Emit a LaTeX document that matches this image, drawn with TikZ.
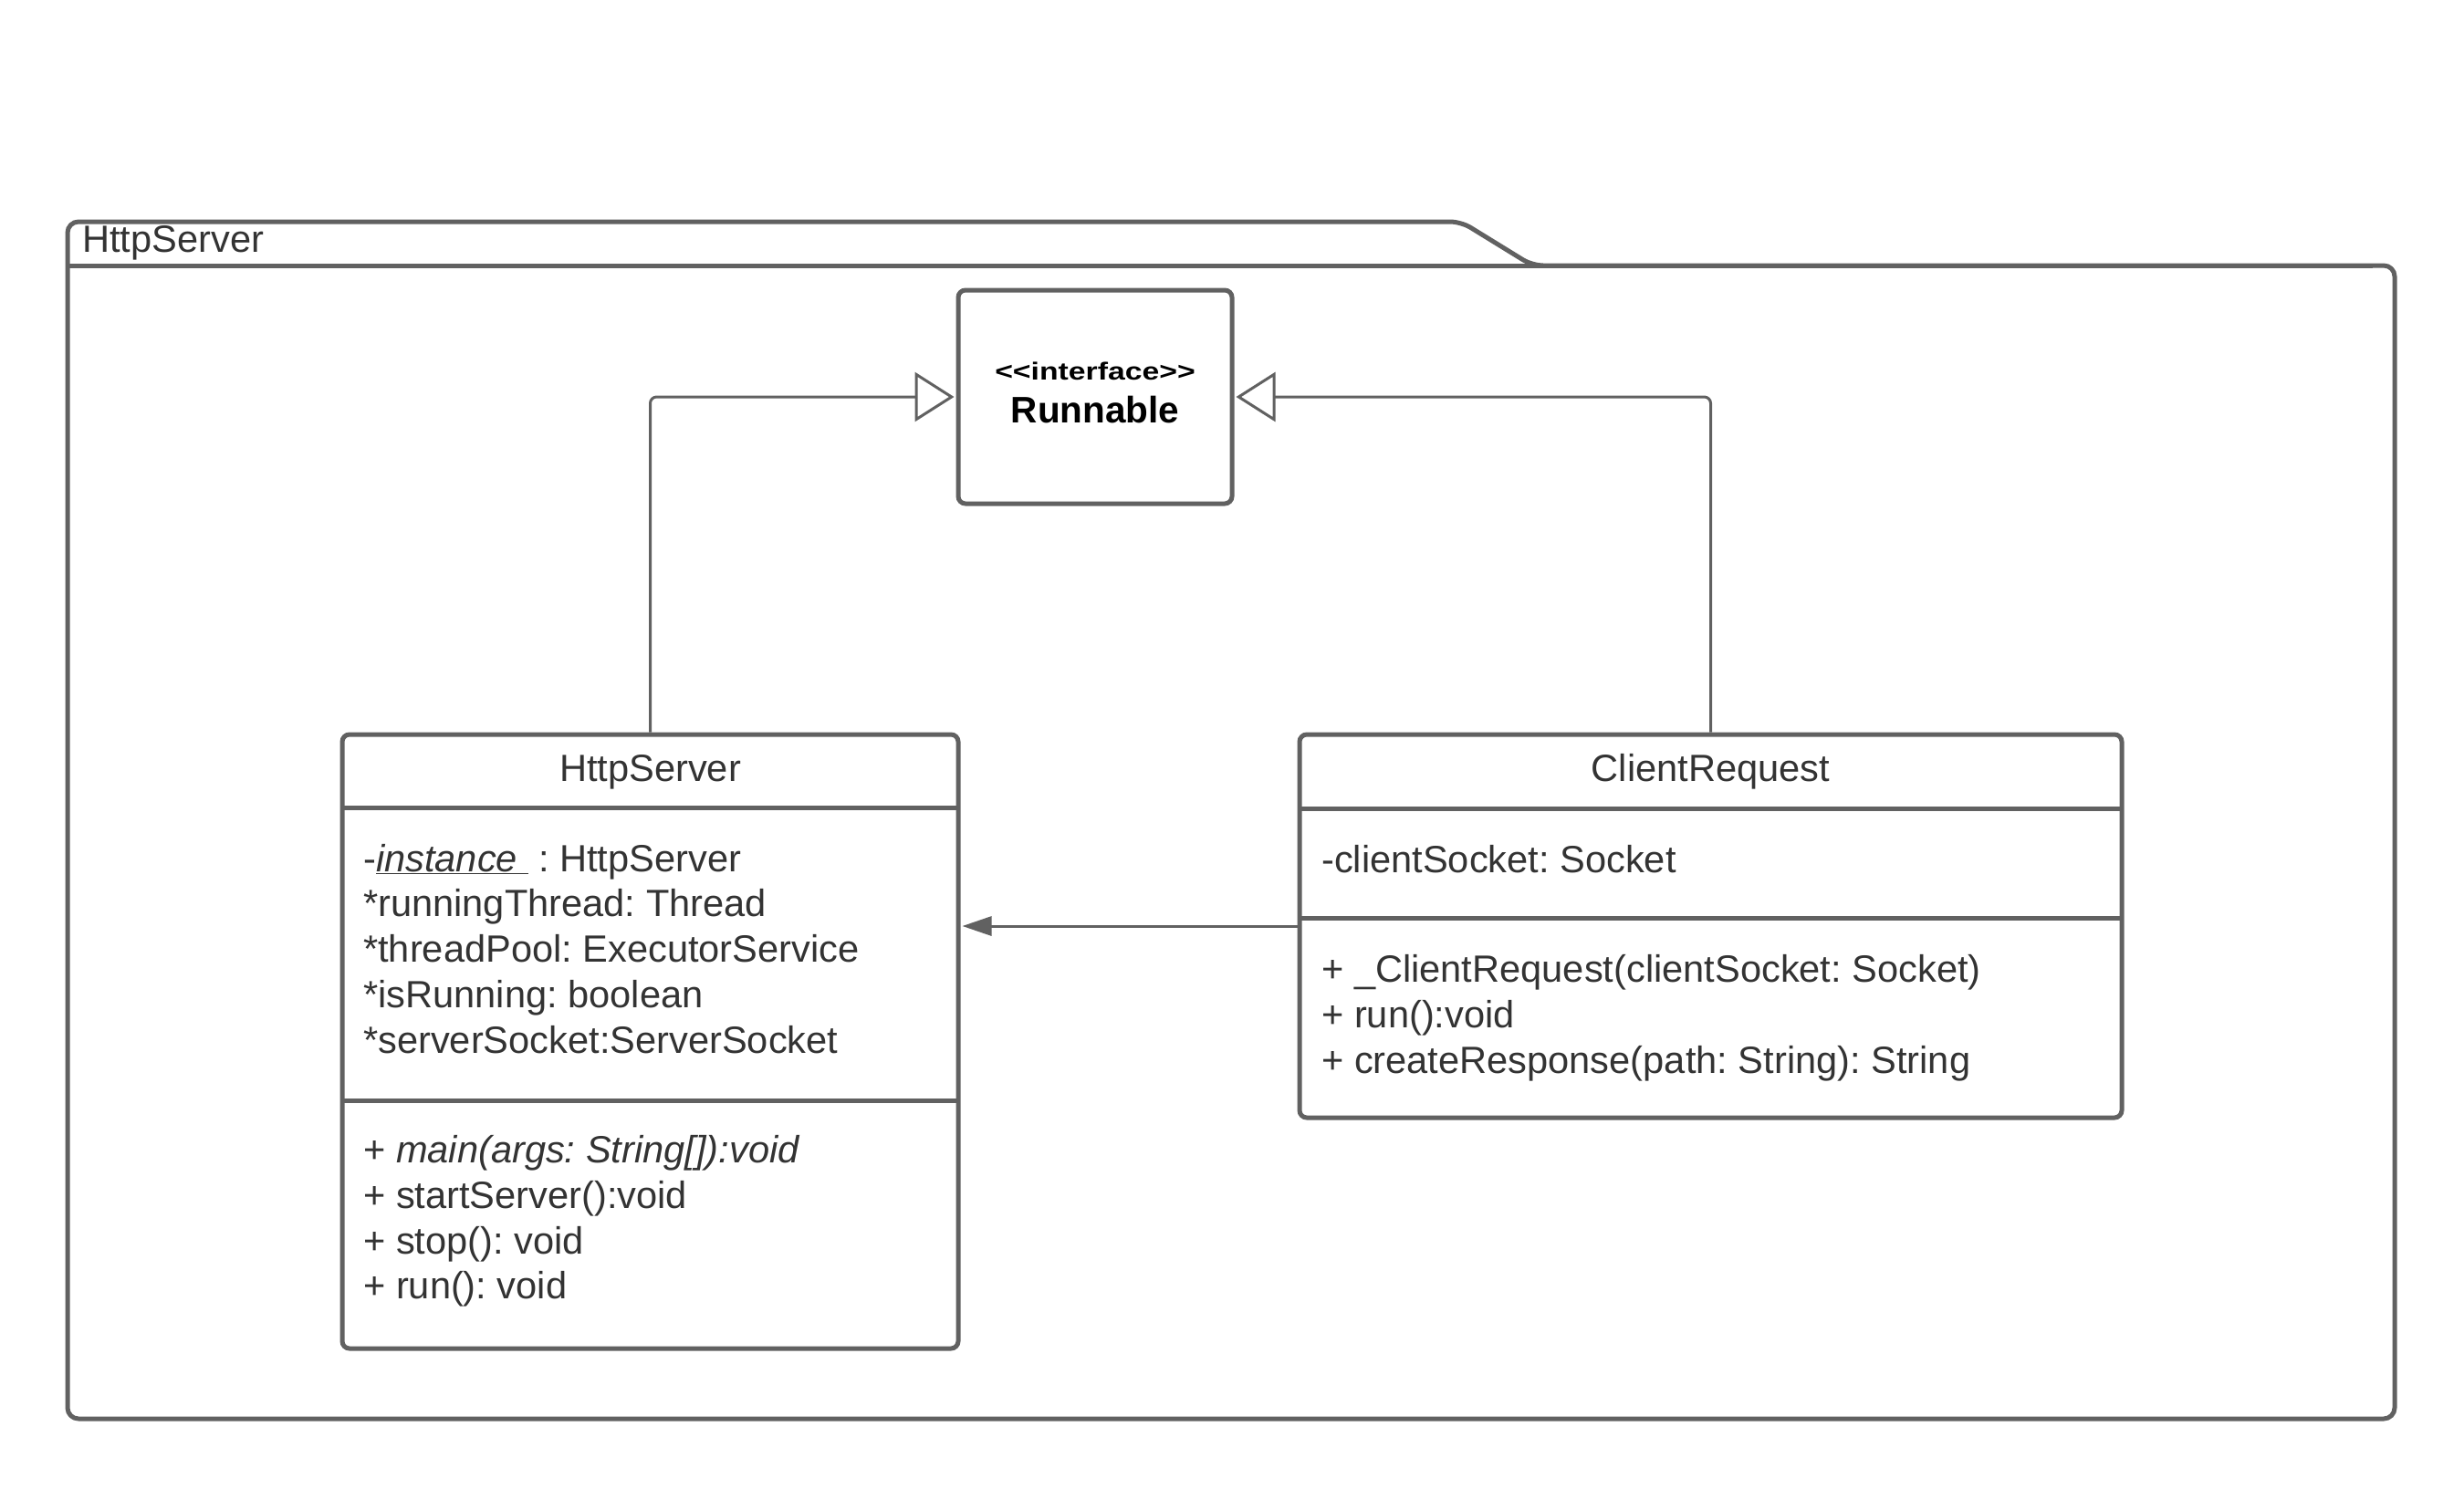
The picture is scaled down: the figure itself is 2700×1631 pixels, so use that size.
\documentclass[tikz,border=0pt]{standalone}
\usepackage{fontspec}
\setmainfont{Liberation Sans}
\usetikzlibrary{arrows.meta}
\definecolor{umlline}{HTML}{616161}
\definecolor{umltext}{HTML}{333333}
\newcommand\umlsize[1]{\fontsize{#1}{#1}\selectfont}
\frenchspacing
\begin{document}
\begin{tikzpicture}[x=1pt,y=-1pt,
  pkgline/.style={draw=umlline, line width=5pt, line join=round},
  classbox/.style={draw=umlline, line width=5pt, rounded corners=8pt, fill=white, inner sep=0pt},
  divider/.style={draw=umlline, line width=5pt},
  member/.style={anchor=base west, inner sep=0pt, text=umltext, font=\umlsize{41.6}},
  title/.style={anchor=base, inner sep=0pt, text=umltext, font=\umlsize{41.6}},
  realize/.style={draw=umlline, line width=3pt, rounded corners=7pt,
    -{Triangle[open, length=43pt, width=54pt, line width=3pt]}, shorten >=2pt},
  assoc/.style={draw=umlline, line width=3pt,
    -{Triangle[length=32pt, width=21pt]}, shorten >=2pt}
]
\useasboundingbox (0,0) rectangle (2700,1631);

% package frame with its name tab
\draw[pkgline, rounded corners=12pt] (74,1555) -- (74,243) -- (1601,243) -- (1679,291)
  -- (2624,291) -- (2624,1555) -- cycle;
\draw[pkgline] (74,291) -- (2600,291);
\node[member] (pkgname) at (90,276) {HttpServer};

% interface
\node[classbox, minimum width=300pt, minimum height=234pt] (run) at (1200,435) {};
\node[anchor=base, inner sep=0pt, font=\bfseries\umlsize{27}] (runst) at (1200,416)
  {\scalebox{1.25}[1]{{<}{<}interface{>}{>}}};
\node[anchor=base, inner sep=0pt, font=\bfseries\umlsize{40.5}] (runname) at (1200,463) {Runnable};

% class HttpServer
\node[classbox, minimum width=675pt, minimum height=673pt] (hs) at (712.5,1141.5) {};
\draw[divider] (375,885) -- (1050,885);
\draw[divider] (375,1206) -- (1050,1206);
\node[title] (hsname) at (712.5,856) {HttpServer};
\node[member] (hsa1) at (398,955) {-\underline{\textit{instance}\ }\ : HttpServer};
\node[member] (hsa2) at (398,1004) {*runningThread: Thread};
\node[member] (hsa3) at (398,1054) {*threadPool: ExecutorService};
\node[member] (hsa4) at (398,1104) {*isRunning: boolean};
\node[member] (hsa5) at (398,1154) {*serverSocket:ServerSocket};
\node[member] (hsm1) at (398,1274) {+ \textit{main(args: String[]):void}};
\node[member] (hsm2) at (398,1324) {+ startServer():void};
\node[member] (hsm3) at (398,1374) {+ stop(): void};
\node[member] (hsm4) at (398,1423) {+ run(): void};

% class ClientRequest
\node[classbox, minimum width=901pt, minimum height=420pt] (cr) at (1874.5,1015) {};
\draw[divider] (1424,886) -- (2325,886);
\draw[divider] (1424,1006) -- (2325,1006);
\node[title] (crname) at (1874.5,856) {ClientRequest};
\node[member] (cra1) at (1448,956) {-clientSocket: Socket};
\node[member] (crm1) at (1448,1076) {+ \_ClientRequest(clientSocket: Socket)};
\node[member] (crm2) at (1448,1126) {+ run():void};
\node[member] (crm3) at (1448,1176) {+ createResponse(path: String): String};

% relations
\draw[realize] (hs.north) |- (run.west);
\draw[realize] (cr.north) |- (run.east);
\draw[assoc] (cr.west) -- (cr.west -| hs.east);
\end{tikzpicture}
\end{document}
